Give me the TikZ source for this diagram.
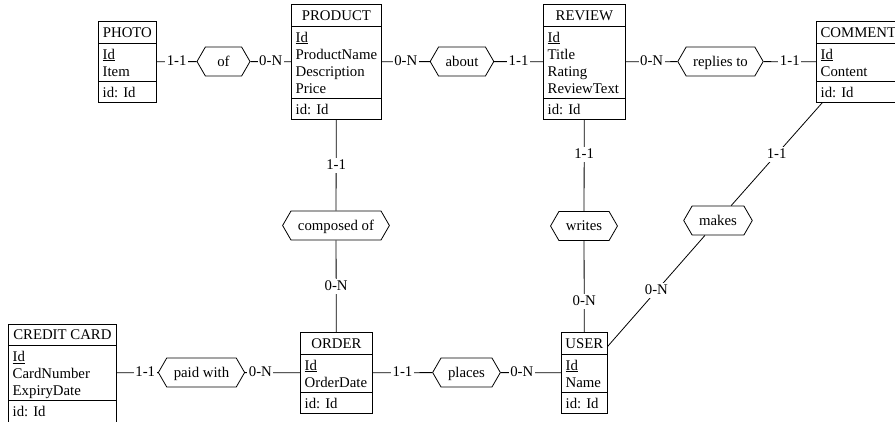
\documentclass[tikz,border=0pt]{standalone}
\usepackage{fontspec}
\setmainfont{Liberation Serif}
\usetikzlibrary{shapes.symbols,calc}

% Entity box: title, attribute list and identifier section.
% #1 name, #2 left, #3 top, #4 width, #5 title, #6 attributes, #7 number of attributes
\newcommand\erentity[7]{%
  \pgfmathsetmacro\erattrh{21+17*(#7-1)}%
  \pgfmathsetmacro\ertotal{22+\erattrh+21}%
  \node[entbox, minimum width=#4, minimum height=\ertotal, anchor=north west] (#1) at (#2,#3) {};
  \draw[entline] ($(#1.north west)+(0,22)$) -- ++(#4,0);
  \draw[entline] ($(#1.north west)+(0,22+\erattrh)$) -- ++(#4,0);
  \node[enttext, anchor=base] at ($(#1.north)+(0,16)$) {#5};
  \foreach \a [count=\i from 0] in {#6}
    \node[enttext] at ($(#1.north west)+(4.5,38+17*\i)$) {\a};
  \node[enttext] at ($(#1.north west)+(4.5,38+\erattrh)$) {id: Id};
}

\begin{document}
\begin{tikzpicture}[x=1pt, y=-1pt,
  font=\fontsize{14.8}{17}\selectfont,
  entbox/.style={draw, line width=0.8pt, inner sep=0pt},
  entline/.style={line width=0.8pt},
  enttext/.style={inner sep=0pt, anchor=base west},
  rel/.style={draw, line width=0.8pt, shape=signal, signal to=west and east,
    signal pointer angle=120, inner xsep=7pt, inner ysep=7pt,
    text height=12pt, text depth=3pt, minimum height=29pt, minimum width=53pt},
  conn/.style={line width=0.8pt},
  card/.style={fill=white, inner xsep=1.5pt, inner ysep=0pt,
    text height=11.5pt, text depth=3.5pt}]

\useasboundingbox (0,0) rectangle (895,421);
\clip (0,0) rectangle (895,421);

% entities
\erentity{photo}{98}{21}{58}{PHOTO}{\underline{Id},Item}{2}
\erentity{product}{291}{4}{90}{PRODUCT}{\underline{Id},ProductName,Description,Price}{4}
\erentity{review}{543}{4}{82}{REVIEW}{\underline{Id},Title,Rating,ReviewText}{4}
\erentity{comment}{816}{21}{84}{COMMENT}{\underline{Id},Content}{2}
\erentity{creditcard}{8}{323.5}{108}{CREDIT CARD}{\underline{Id},CardNumber,ExpiryDate}{3}
\erentity{order}{300}{332}{72}{ORDER}{\underline{Id},OrderDate}{2}
\erentity{user}{561}{332}{46}{USER}{\underline{Id},Name}{2}

% relationships
\node[rel] (of) at (223.5,61.5) {of};
\node[rel] (about) at (462,61.5) {about};
\node[rel] (replies) at (720.5,61.5) {replies to};
\node[rel] (composed) at (336,225.5) {composed of};
\node[rel] (writes) at (584,226) {writes};
\node[rel] (makes) at (718,220.5) {makes};
\node[rel] (places) at (466.5,372.5) {places};
\node[rel] (paid) at (201.5,372.5) {paid with};

% roles with cardinalities
\draw[conn] (photo) -- node[card] {1-1} (of) -- node[card] {0-N} (product);
\draw[conn] (product) -- node[card] {0-N} (about) -- node[card] {1-1} (review);
\draw[conn] (review) -- node[card] {0-N} (replies) -- node[card] {1-1} (comment);
\draw[conn] (product) -- node[card] {1-1} (composed) -- node[card] {0-N} (order);
\draw[conn] (review) -- node[card, pos=0.38] {1-1} (writes) -- node[card, pos=0.66] {0-N} (user);
\draw[conn] (comment) -- node[card] {1-1} (makes) -- node[card] {0-N} (user);
\draw[conn] (order) -- node[card] {1-1} (places) -- node[card, pos=0.35] {0-N} (user);
\draw[conn] (creditcard) -- node[card, pos=0.69] {1-1} (paid) -- node[card, pos=0.28] {0-N} (order);

\end{tikzpicture}
\end{document}
